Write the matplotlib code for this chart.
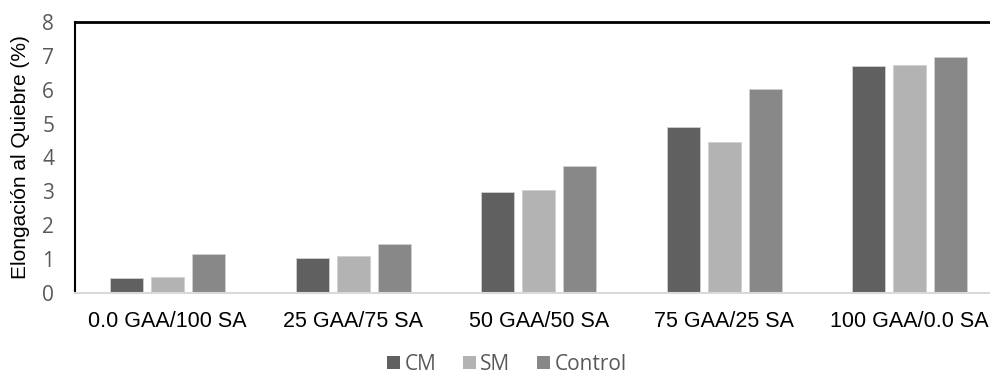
import numpy as np
import matplotlib.pyplot as plt

# data
categories = ["0.0 GAA/100 SA", "25 GAA/75 SA", "50 GAA/50 SA", "75 GAA/25 SA", "100 GAA/0.0 SA"]
cm = [0.43, 1.03, 2.98, 4.90, 6.70]
sm = [0.48, 1.09, 3.04, 4.45, 6.72]
control = [1.16, 1.45, 3.75, 6.02, 6.98]
series_names = ["CM", "SM", "Control"]
colors = ["#606060", "#b3b3b3", "#888888"]

fig = plt.figure(figsize=(9.9, 3.78), dpi=100)
ax = fig.add_axes([0.0758, 0.2249, 0.9242, 0.7169])

x = np.arange(len(categories))
w = 0.178
step = 0.221
for i, (vals, name, c) in enumerate(zip([cm, sm, control], series_names, colors)):
    ax.bar(x + (i - 1) * step, vals, width=w, color=c, label=name,
           edgecolor="#d0d0d0", linewidth=0.6)

ax.set_xlim(-0.5, 4.433)
ax.set_ylim(0, 8)
ax.set_yticks(range(0, 9))
ax.tick_params(axis="y", length=0, pad=15, labelsize=15, labelcolor="#595959")
ax.tick_params(axis="x", length=0, pad=13)
for t in ax.get_yticklabels():
    t.set_fontfamily("Open Sans")
ax.set_xticks(x)
ax.set_xticklabels(categories, fontsize=15.5, fontfamily="Liberation Sans", color="black")

ax.set_ylabel("Elongación al Quiebre (%)", fontsize=15, fontfamily="Liberation Sans")
ax.yaxis.set_label_coords(-0.049, 0.5)

ax.spines["right"].set_visible(False)
ax.spines["left"].set_color("black")
ax.spines["left"].set_linewidth(1.5)
ax.spines["top"].set_color("black")
ax.spines["top"].set_linewidth(2)
ax.spines["bottom"].set_color("#d9d9d9")
ax.spines["bottom"].set_linewidth(1.5)

leg = fig.legend(loc="center", bbox_to_anchor=(0.512, 0.036), ncol=3, frameon=False,
                 prop={"family": "Open Sans", "size": 15}, handlelength=0.62,
                 handleheight=0.62, handletextpad=0.2, columnspacing=1.3,
                 borderpad=0.2)
for t in leg.get_texts():
    t.set_color("#595959")
for h in leg.legend_handles:
    h.set_edgecolor("none")

fig.savefig("out.png", dpi=100)
